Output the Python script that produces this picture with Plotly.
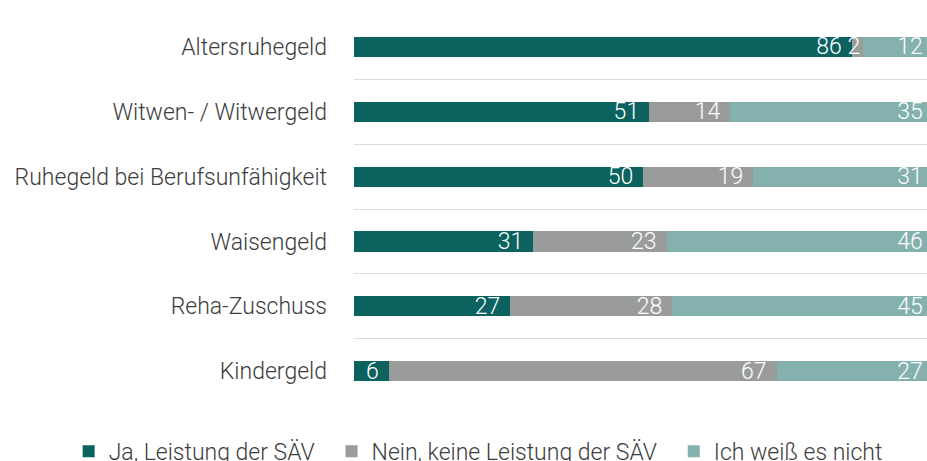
import plotly.graph_objects as go

categories = ["Altersruhegeld", "Witwen- / Witwergeld", "Ruhegeld bei Berufsunfähigkeit",
              "Waisengeld", "Reha-Zuschuss", "Kindergeld"]
ja = [86, 51, 50, 31, 27, 6]
nein = [2, 14, 19, 23, 28, 67]
weiss = [12, 35, 31, 46, 45, 27]
series_names = ["Ja, Leistung der SÄV", "Nein, keine Leistung der SÄV", "Ich weiß es nicht"]
colors = ["#0b625f", "#9a9c9c", "#84b0ad"]

ypos = list(range(len(categories)))
FONT = "Roboto"
PAD = "\u2009\u200a"      # small trailing gap between label and segment end
LEG_GAP = "\u2002"        # extra gap between legend entries

fig = go.Figure()
for i, (name, vals, col) in enumerate(zip(series_names, [ja, nein, weiss], colors)):
    fig.add_trace(go.Bar(
        y=ypos, x=vals, orientation="h",
        name=name + (LEG_GAP if i < len(series_names) - 1 else ""),
        marker=dict(color=col, line=dict(width=0)),
        width=0.31,
        text=[str(v) + (PAD if v >= 5 else "") for v in vals],
        textposition="inside", insidetextanchor="end",
        textangle=0, constraintext="none", cliponaxis=True,
        textfont=dict(color="white", size=23, family=FONT, weight=300),
        hoverinfo="skip",
    ))

fig.update_layout(
    barmode="stack",
    width=927, height=461,
    margin=dict(l=354, r=0, t=14, b=57, autoexpand=False),
    plot_bgcolor="white", paper_bgcolor="white",
    font=dict(family=FONT, size=23, color="#3c3c3c", weight=300),
    showlegend=True,
    legend=dict(orientation="h", x=-0.498, xanchor="left", y=-0.066, yanchor="top",
                font=dict(size=23, color="#3c3c3c", family=FONT, weight=300),
                traceorder="normal", itemwidth=30, tracegroupgap=0),
    xaxis=dict(range=[0, 99], visible=False, fixedrange=True),
    yaxis=dict(range=[5.505, -0.505], tickmode="array", tickvals=ypos, ticktext=categories,
               showgrid=False, zeroline=False, ticks="", ticklabelstandoff=26, automargin=False,
               fixedrange=True,
               minor=dict(tick0=0.5, dtick=1, showgrid=True, gridcolor="#dcdcdc", gridwidth=1)),
)

fig.write_html("out.html", config={"displayModeBar": False},
               post_script="document.body.style.margin='0';")
